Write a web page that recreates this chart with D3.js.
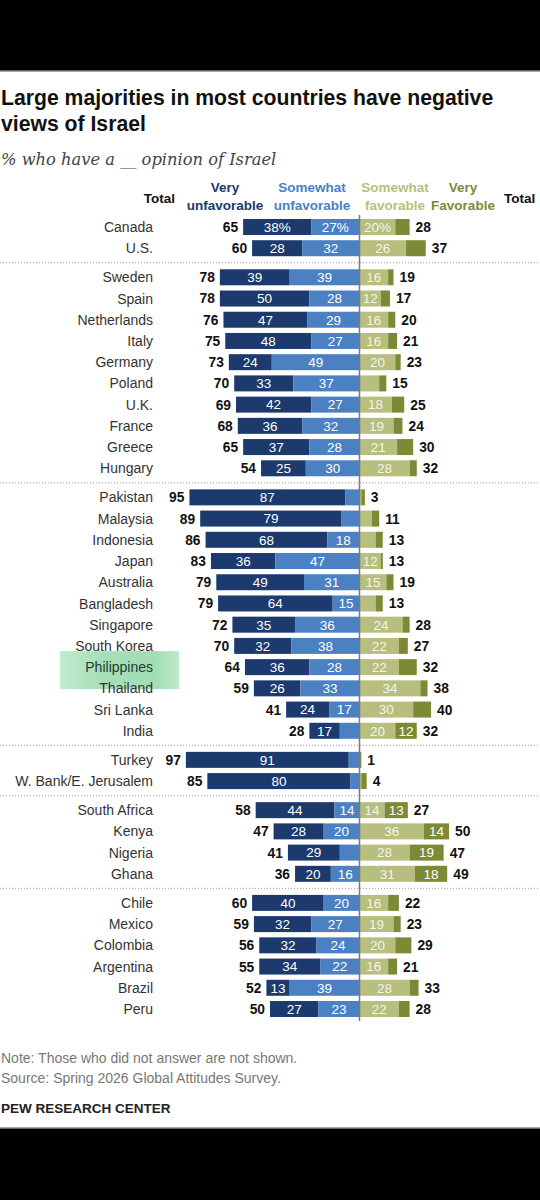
<!DOCTYPE html>
<html>
<head>
<meta charset="utf-8">
<script src="https://cdn.jsdelivr.net/npm/d3@7"></script>
<style>
  html, body { margin: 0; padding: 0; background: #000; }
  svg { display: block; }
</style>
</head>
<body>
<div id="chart"></div>
<script>
// data
const countries = ['Canada', 'U.S.',
  'Sweden', 'Spain', 'Netherlands', 'Italy', 'Germany', 'Poland', 'U.K.', 'France', 'Greece', 'Hungary',
  'Pakistan', 'Malaysia', 'Indonesia', 'Japan', 'Australia', 'Bangladesh', 'Singapore', 'South Korea',
  'Philippines', 'Thailand', 'Sri Lanka', 'India',
  'Turkey', 'W. Bank/E. Jerusalem',
  'South Africa', 'Kenya', 'Nigeria', 'Ghana',
  'Chile', 'Mexico', 'Colombia', 'Argentina', 'Brazil', 'Peru'];
const groups = [0, 0, 1, 1, 1, 1, 1, 1, 1, 1, 1, 1,
  2, 2, 2, 2, 2, 2, 2, 2, 2, 2, 2, 2, 3, 3, 4, 4, 4, 4, 5, 5, 5, 5, 5, 5];
const veryUnfav =     [38, 28, 39, 50, 47, 48, 24, 33, 42, 36, 37, 25, 87, 79, 68, 36, 49, 64, 35, 32, 36, 26, 24, 17, 91, 80, 44, 28, 29, 20, 40, 32, 32, 34, 13, 27];
const somewhatUnfav = [27, 32, 39, 28, 29, 27, 49, 37, 27, 32, 28, 30,  8, 10, 18, 47, 31, 15, 36, 38, 28, 33, 17, 11,  6,  5, 14, 20, 11, 16, 20, 27, 24, 22, 39, 23];
const somewhatFav =   [20, 26, 16, 12, 16, 16, 20, 11, 18, 19, 21, 28,  1,  7,  9, 12, 15,  9, 24, 22, 22, 34, 30, 20,  0,  1, 14, 36, 28, 31, 16, 19, 20, 16, 28, 22];
const veryFav =       [ 8, 11,  3,  5,  4,  5,  3,  4,  7,  5,  9,  4,  2,  4,  4,  1,  4,  4,  4,  5, 10,  4, 10, 12,  1,  3, 13, 14, 19, 18,  6,  4,  9,  5,  5,  6];
const totalUnfav =    [65, 60, 78, 78, 76, 75, 73, 70, 69, 68, 65, 54, 95, 89, 86, 83, 79, 79, 72, 70, 64, 59, 41, 28, 97, 85, 58, 47, 41, 36, 60, 59, 56, 55, 52, 50];
const totalFav =      [28, 37, 19, 17, 20, 21, 23, 15, 25, 24, 30, 32,  3, 11, 13, 13, 19, 13, 28, 27, 32, 38, 40, 32,  1,  4, 27, 50, 47, 49, 22, 23, 29, 21, 33, 28];
const categories = [['Very', 'unfavorable'], ['Somewhat', 'unfavorable'], ['Somewhat', 'favorable'], ['Very', 'Favorable']];
const highlighted = 'Philippines';

const W = 540, H = 1200;
const colors = ['#1c3a6e', '#4b80c3', '#b7be7e', '#7c8a35'];
const font = "'Liberation Sans', Arial, sans-serif";
const cx = 359.5;
const barH = 16;
const gapSlots = 0.37;
const minLabel = 12;

const svg = d3.select('#chart').append('svg')
  .attr('width', W)
  .attr('height', H);

svg.append('rect').attr('width', W).attr('height', H).attr('fill', '#000');
svg.append('rect').attr('y', 71).attr('width', W).attr('height', 1057).attr('fill', '#fff');
svg.append('line').attr('x1', 0).attr('x2', W).attr('y1', 71).attr('y2', 71)
  .attr('stroke', '#8a8a8a').attr('stroke-width', 1.5);
svg.append('line').attr('x1', 0).attr('x2', W).attr('y1', 1128).attr('y2', 1128)
  .attr('stroke', '#8a8a8a').attr('stroke-width', 1.5);

// title block
svg.append('text').attr('x', 1).attr('y', 105)
  .style('font', `bold 21.2px ${font}`).attr('fill', '#111')
  .text('Large majorities in most countries have negative');
svg.append('text').attr('x', 1).attr('y', 131)
  .style('font', `bold 21.2px ${font}`).attr('fill', '#111')
  .text('views of Israel');
svg.append('text').attr('x', 1).attr('y', 165)
  .style('font', "italic 16.3px Georgia, 'DejaVu Serif', serif").attr('fill', '#444')
  .text('% who have a __ opinion of Israel');

const x = d3.scaleLinear().domain([0, 100]).range([0, 179]);
const slot = countries.map((c, i) => i + groups[i] * gapSlots);
const y = d3.scaleLinear()
  .domain([0, slot[slot.length - 1]])
  .range([227, 1009]);

const rows = countries.map((name, i) => ({
  name,
  y: y(slot[i]),
  segs: [
    { v: veryUnfav[i], x0: cx - x(veryUnfav[i] + somewhatUnfav[i]), k: 0 },
    { v: somewhatUnfav[i], x0: cx - x(somewhatUnfav[i]), k: 1 },
    { v: somewhatFav[i], x0: cx, k: 2 },
    { v: veryFav[i], x0: cx + x(somewhatFav[i]), k: 3 }
  ],
  left: cx - x(veryUnfav[i] + somewhatUnfav[i]),
  right: cx + x(somewhatFav[i] + veryFav[i]),
  tu: totalUnfav[i],
  tf: totalFav[i],
  first: i === 0
}));

// highlight box behind the flagged country
const hl = rows.find(r => r.name === highlighted);
const grad = svg.append('defs').append('linearGradient').attr('id', 'hl');
grad.append('stop').attr('offset', '0%').attr('stop-color', '#c2ebcf');
grad.append('stop').attr('offset', '35%').attr('stop-color', '#a6dfb8');
grad.append('stop').attr('offset', '80%').attr('stop-color', '#a2ddb5');
grad.append('stop').attr('offset', '100%').attr('stop-color', '#bde9cb');
svg.append('rect')
  .attr('x', 60).attr('y', hl.y - 16)
  .attr('width', 119).attr('height', 38)
  .attr('fill', 'url(#hl)');

// column headers
const headX = [225, 312, 395, 463];
categories.forEach((lines, k) => {
  const t = svg.append('text')
    .attr('x', headX[k]).attr('y', 192)
    .attr('text-anchor', 'middle')
    .style('font', `bold 13.5px ${font}`)
    .attr('fill', colors[k]);
  lines.forEach((l, j) => t.append('tspan').attr('x', headX[k]).attr('dy', j ? 18 : 0).text(l));
});
svg.append('text').attr('x', 175).attr('y', 203).attr('text-anchor', 'end')
  .style('font', `bold 13.5px ${font}`).attr('fill', '#111').text('Total');
svg.append('text').attr('x', 504).attr('y', 203)
  .style('font', `bold 13.5px ${font}`).attr('fill', '#111').text('Total');

// group separators
const sepY = [];
for (let i = 1; i < rows.length; i++) {
  if (groups[i] !== groups[i - 1]) sepY.push((rows[i].y + rows[i - 1].y) / 2);
}
svg.selectAll('line.sep').data(sepY).enter().append('line')
  .attr('class', 'sep')
  .attr('x1', 0).attr('x2', W)
  .attr('y1', d => d).attr('y2', d => d)
  .attr('stroke', '#9a9a9a')
  .attr('stroke-width', 1)
  .attr('stroke-dasharray', '1,2');

const row = svg.selectAll('g.row').data(rows).enter().append('g')
  .attr('class', 'row')
  .attr('transform', d => 'translate(0,' + d.y + ')');

row.append('text')
  .attr('x', 153).attr('dy', '0.36em')
  .attr('text-anchor', 'end')
  .style('font', `14px ${font}`)
  .attr('fill', d => d.name === highlighted ? '#1f3a2c' : '#333')
  .text(d => d.name);

row.selectAll('rect').data(d => d.segs).enter().append('rect')
  .attr('x', s => s.x0)
  .attr('y', -barH / 2)
  .attr('width', s => x(s.v))
  .attr('height', barH)
  .attr('fill', s => colors[s.k]);

row.each(function (d) {
  d3.select(this).selectAll('text.seg')
    .data(d.segs.filter(s => s.v >= minLabel))
    .enter().append('text')
    .attr('class', 'seg')
    .attr('x', s => s.x0 + x(s.v) / 2)
    .attr('dy', '0.36em')
    .attr('text-anchor', 'middle')
    .style('font', `13.5px ${font}`)
    .attr('fill', s => s.k === 2 ? '#f4f5ea' : '#fff')
    .text(s => s.v + (d.first ? '%' : ''));
});

row.append('text')
  .attr('x', d => d.left - 5).attr('dy', '0.36em')
  .attr('text-anchor', 'end')
  .style('font', `bold 13.8px ${font}`)
  .attr('fill', '#111')
  .text(d => d.tu);
row.append('text')
  .attr('x', d => d.right + 6).attr('dy', '0.36em')
  .style('font', `bold 13.8px ${font}`)
  .attr('fill', '#111')
  .text(d => d.tf);

// zero line
svg.append('line')
  .attr('x1', cx).attr('x2', cx)
  .attr('y1', rows[0].y - barH / 2 - 4)
  .attr('y2', rows[rows.length - 1].y + barH / 2 + 4)
  .attr('stroke', '#7a7a7a')
  .attr('stroke-width', 1.5);

// footer
svg.append('text').attr('x', 1).attr('y', 1063)
  .style('font', `14px ${font}`).attr('fill', '#777')
  .text('Note: Those who did not answer are not shown.');
svg.append('text').attr('x', 1).attr('y', 1083)
  .style('font', `14px ${font}`).attr('fill', '#777')
  .text('Source: Spring 2026 Global Attitudes Survey.');
svg.append('text').attr('x', 1).attr('y', 1113)
  .style('font', `bold 13.5px ${font}`).attr('fill', '#222')
  .text('PEW RESEARCH CENTER');
</script>
</body>
</html>
